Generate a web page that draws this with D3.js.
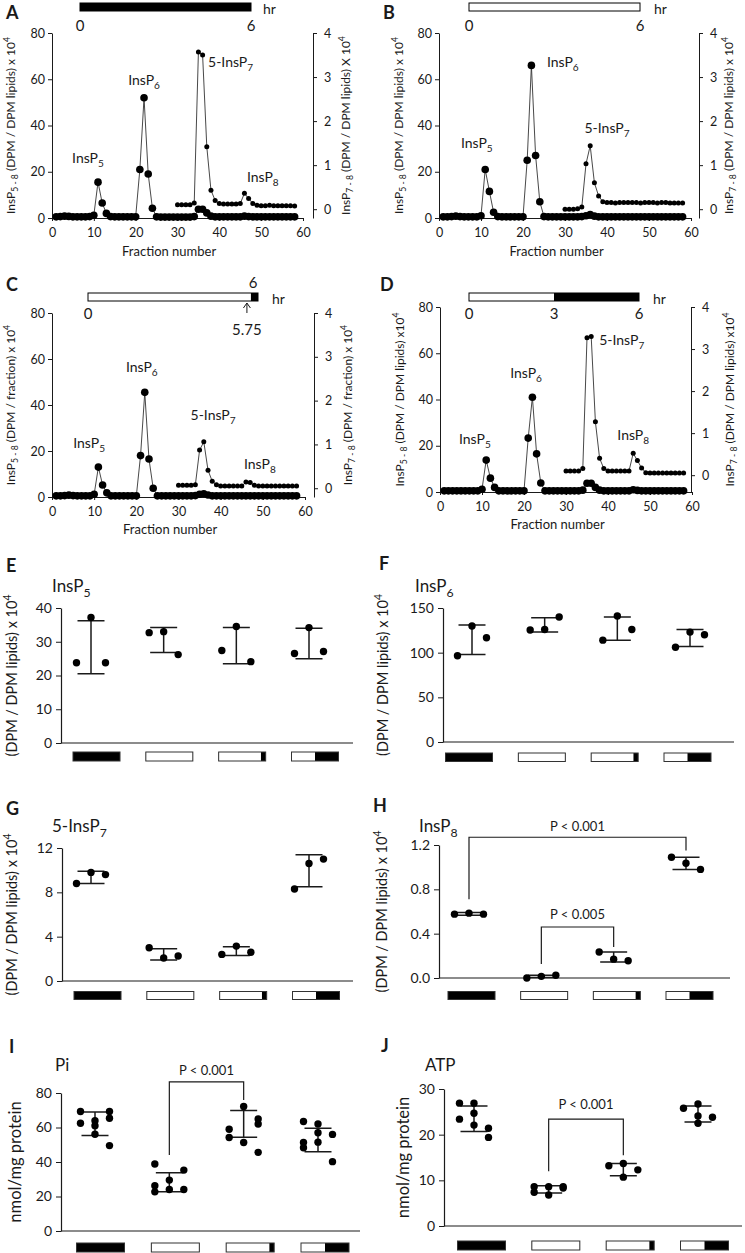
<!DOCTYPE html>
<html><head><meta charset="utf-8">
<script src="https://cdn.jsdelivr.net/npm/d3@7"></script>
<style>body{margin:0;background:#fff} svg{display:block;font-family:Lato,"DejaVu Sans",sans-serif}</style>
</head><body><svg id="c" width="745" height="1253"></svg>
<script>
// ---------------- DATA ----------------
// Chromatograms: left series fractions 1..58 (InsP5-8 scale), right series fractions 30..58 (InsP7-8 scale)
const leftStart = 1, rightStart = 30;
const A_left = [0.5,0.6,0.8,0.7,0.5,0.5,0.5,0.5,0.6,
  1.2,15.5,6.5,2.0,0.6,0.5,0.5,0.5,0.5,0.5,
  0.5,21,52,19,4.2,0.5,0.4,0.4,0.4,0.4,
  0.4,0.4,0.4,0.4,0.6,3.8,3.8,2.2,0.8,0.5,
  0.5,0.5,0.5,0.5,0.5,0.5,0.8,0.6,0.5,0.5,
  0.5,0.5,0.5,0.5,0.5,0.5,0.5,0.5,0.5];
const A_right = [0.1,0.1,0.1,0.1,0.14,3.57,3.5,1.42,0.43,0.2,
  0.13,0.12,0.12,0.12,0.12,0.13,0.36,0.24,0.13,0.09,
  0.08,0.08,0.09,0.08,0.08,0.08,0.08,0.08,0.07];
const B_left = [0.5,0.5,0.6,0.8,0.6,0.5,0.5,0.5,0.5,
  1.0,21,11.5,2.5,0.6,0.5,0.5,0.5,0.5,0.5,
  0.5,25,66,27,7,0.6,0.5,0.5,0.5,0.5,
  0.5,0.5,0.5,0.5,0.6,1.0,1.5,0.8,0.5,0.5,
  0.5,0.5,0.5,0.5,0.5,0.5,0.5,0.5,0.5,0.5,
  0.5,0.5,0.5,0.5,0.5,0.5,0.5,0.5,0.5];
const B_right = [0.0,0.0,0.0,0.01,0.05,1.03,1.44,0.6,0.3,0.17,
  0.15,0.15,0.14,0.15,0.15,0.15,0.15,0.15,0.14,0.15,
  0.15,0.15,0.14,0.15,0.15,0.14,0.14,0.14,0.14];
const C_left = [0.5,0.5,0.6,0.8,0.6,0.5,0.5,0.5,0.5,
  1.2,13,5.2,1.8,0.5,0.5,0.5,0.5,0.5,0.5,
  0.5,18,45.5,16.5,3.8,0.5,0.5,0.5,0.5,0.5,
  0.5,0.5,0.5,0.5,0.6,1.2,1.4,0.9,0.5,0.5,
  0.5,0.5,0.5,0.5,0.5,0.5,0.5,0.5,0.5,0.5,
  0.5,0.5,0.5,0.5,0.5,0.5,0.5,0.5,0.5];
const C_right = [0.07,0.07,0.07,0.07,0.08,0.87,1.06,0.41,0.16,0.08,
  0.05,0.05,0.05,0.05,0.05,0.05,0.14,0.13,0.07,0.05,
  0.05,0.05,0.05,0.05,0.05,0.05,0.05,0.05,0.05];
const D_left = [0.5,0.5,0.5,0.5,0.5,0.5,0.5,0.5,0.5,
  1.2,13.8,6,2,0.5,0.5,0.5,0.5,0.5,0.5,
  0.5,23.3,41,16.5,3.9,0.5,0.5,0.5,0.5,0.5,
  0.5,0.5,0.5,0.5,0.8,3.8,3.8,2.0,0.8,0.5,
  0.5,0.5,0.5,0.5,0.5,0.5,1.0,0.7,0.5,0.5,
  0.5,0.5,0.5,0.5,0.5,0.5,0.5,0.5,0.5];
const D_right = [0.1,0.1,0.1,0.1,0.16,3.27,3.3,1.27,0.4,0.16,
  0.1,0.1,0.1,0.1,0.1,0.1,0.52,0.35,0.17,0.06,
  0.05,0.05,0.05,0.05,0.05,0.05,0.05,0.05,0.05];
const fracTicks = [0,10,20,30,40,50,60];
const leftTicks = [0,20,40,60,80];
const rightTicks = [0,1,2,3,4];

// Conditions for dot plots
const conds = ["dark 6h","light 6h","light 5.75h + dark 0.25h","light 3h + dark 3h"];
const iconLight = [0, 1, 0.9, 0.5];

// E-H: one value per column (left, middle, right) per condition
const E_pts = [[23.8,37.2,23.8],[32.7,33.0,26.2],[27.4,34.5,24.1],[26.5,34.2,27.1]];
const E_mean = [28.35,30.5,28.85,29.5], E_sd = [7.85,3.7,5.35,4.5];
const F_pts = [[96.5,129.8,116.7],[125.3,126,140],[114,141,126],[106,123,120]];
const F_mean = [114.5,131,127,116.5], F_sd = [16.5,8,13,9.5];
const G_pts = [[8.8,9.8,9.6],[3.0,2.07,2.25],[2.4,3.15,2.6],[8.3,10.6,11.0]];
const G_mean = [9.35,2.4,2.7,9.95], G_sd = [0.55,0.5,0.4,1.45];
const H_pts = [[0.576,0.585,0.576],[0.0,0.015,0.025],[0.235,0.17,0.155],[1.09,1.035,0.98]];
const H_mean = [0.578,0.015,0.19,1.035], H_sd = [0.012,0.01,0.045,0.055];
// I-J: several values per column (left, middle, right)
const I_pts = [
  [[69.3,62.5],[63.9,61,56.1],[69.3,65.4,49.5]],
  [[38.8,26.2,22.7],[29.5,24.1],[35.3,24.1]],
  [[59,54.2],[72.2,51.3],[65,62,45.6]],
  [[63.5,51.3,48.3],[62,57,51.5],[56,40.2]]];
const I_mean = [62.15,28.25,62.15,52.8], I_sd = [6.85,5.55,7.75,6.8];
const J_pts = [
  [[26.9,23.4],[26.9,24.7,22.1],[21.4,19.4]],
  [[8.6,7.4],[8.6,6.8],[8.6,8.3]],
  [[13.2],[13.7,10.7],[12.3]],
  [[25.8],[26.7,24.1,22.5],[23.8]]];
const J_mean = [23.5,8.0,12.35,24.55], J_sd = [2.8,0.8,1.35,1.75];

// significance brackets (condition indices, values)
const H_sig = [{a:0,b:3,top:1.27,la:0.71,lb:1.15,label:"P < 0.001",ly:1.37},
               {a:1,b:2,top:0.46,la:0.126,lb:0.28,label:"P < 0.005",ly:0.57}];
const I_sig = [{a:1,b:2,top:86.4,la:44,lb:76,label:"P < 0.001",ly:93.3}];
const J_sig = [{a:1,b:2,top:23.4,la:12,lb:15.5,label:"P < 0.001",ly:26.7}];

// ---------------- DRAWING ----------------
const svg = d3.select("#c");
const INK = "#1a1a1a";
const FONT = "Lato, 'DejaVu Sans', sans-serif";

function rich(sel, parts, size) {
  let cur = 0;
  parts.forEach(([t, type]) => {
    let target = 0, fs = size;
    if (type === "sub") { target = 0.28 * size; fs = size * 0.72; }
    if (type === "sup") { target = -0.42 * size; fs = size * 0.72; }
    sel.append("tspan").text(t).attr("dy", (target - cur).toFixed(2)).attr("font-size", fs);
    cur = target;
  });
  return sel;
}
function styleAxis(g, fs) {
  g.attr("font-family", null).attr("font-size", null);
  g.selectAll("text").attr("font-size", fs).attr("fill", INK).style("font-family", FONT);
  g.selectAll("path,line").attr("stroke", INK);
}
function letter(txt, x, y) {
  svg.append("text").attr("x", x).attr("y", y).attr("font-size", 18).attr("font-weight", "bold")
    .attr("fill", INK).text(txt);
}

const chromPanels = [
  {L:"A", left:A_left, right:A_right, xr:[52,303], yr:[218,33], rx:313, rdom:[-0.2,4],
   letter:[6,19], labX:[15,350], fracY:251,
   leftLab:[["InsP",""],["5 - 8","sub"],[" (DPM / DPM lipids) x 10",""],["4","sup"]],
   rightLab:[["InsP",""],["7 - 8","sub"],[" (DPM / DPM lipids) X 10",""],["4","sup"]],
   peaks:[["InsP","5",8.6,23.8,"middle"],["InsP","6",22,57.6,"middle"],["5-InsP","7",37.3,65.4,"start"],["InsP","8",46.6,15.6,"start"]],
   time:{range:[80,251], y:3, segs:[[0,6,1]], labs:[[0,"b"],[6,"b"]], labY:26, hrX:263}},
  {L:"B", left:B_left, right:B_right, xr:[439,691], yr:[218,33], rx:699, rdom:[-0.2,4],
   letter:[383,19], labX:[403,733], fracY:251,
   leftLab:[["InsP",""],["5 - 8","sub"],[" (DPM / DPM lipids) x 10",""],["4","sup"]],
   rightLab:[["InsP",""],["7 - 8","sub"],[" (DPM / DPM lipids) x 10",""],["4","sup"]],
   peaks:[["InsP","5",9.0,30.3,"middle"],["InsP","6",25.7,65.4,"start"],["5-InsP","7",40,36.8,"middle"]],
   time:{range:[469,640], y:3, segs:[[0,6,0]], labs:[[0,"b"],[6,"b"]], labY:26, hrX:654}},
  {L:"C", left:C_left, right:C_right, xr:[52,305], yr:[497,313], rx:314, rdom:[-0.2,4],
   letter:[6,291], labX:[15,352], fracY:529,
   leftLab:[["InsP",""],["5 - 8","sub"],[" (DPM / fraction) x 10",""],["4","sup"]],
   rightLab:[["InsP",""],["7 - 8","sub"],[" (DPM / fraction) x 10",""],["4","sup"]],
   peaks:[["InsP","5",8.8,21.3,"middle"],["InsP","6",21.3,54.3,"middle"],["5-InsP","7",38.2,33.5,"middle"],["InsP","8",49.3,12.2,"middle"]],
   time:{range:[88,258], y:293, segs:[[0,5.75,0],[5.75,6,1]], labs:[[0,"b"],[6,"a"]], labY:314, hrX:272, arrow:5.75}},
  {L:"D", left:D_left, right:D_right, xr:[440,692], yr:[492,307], rx:691, rdom:[-0.4,4],
   letter:[380,291], labX:[404,734], fracY:524,
   leftLab:[["InsP",""],["5 - 8","sub"],[" (DPM / DPM lipids) x10",""],["4","sup"]],
   rightLab:[["InsP",""],["7 - 8","sub"],[" (DPM / DPM lipids) x10",""],["4","sup"]],
   peaks:[["InsP","5",8.3,20.8,"middle"],["InsP","6",20.5,49.4,"middle"],["5-InsP","7",37.9,63.6,"start"],["InsP","8",46,22.5,"middle"]],
   time:{range:[469,639], y:293, segs:[[0,3,0],[3,6,1]], labs:[[0,"b"],[3,"b"],[6,"b"]], labY:314, hrX:653}}
];

chromPanels.forEach(p => {
  const g = svg.append("g");
  const x = d3.scaleLinear().domain([0,60]).range(p.xr);
  const yL = d3.scaleLinear().domain([0,80]).range(p.yr);
  const yR = d3.scaleLinear().domain(p.rdom).range(p.yr);
  letter(p.L, p.letter[0], p.letter[1]);

  const ax1 = g.append("g").attr("transform", `translate(${p.xr[0]},0)`)
    .call(d3.axisLeft(yL).tickValues(leftTicks).tickFormat(d3.format("d")).tickSize(4).tickPadding(3).tickSizeOuter(0));
  styleAxis(ax1, 12.5);
  const ax2 = g.append("g").attr("transform", `translate(${p.rx},0)`)
    .call(d3.axisRight(yR).tickValues(rightTicks).tickFormat(d3.format("d")).tickSize(4).tickPadding(7).tickSizeOuter(0));
  styleAxis(ax2, 12.5);
  const ax3 = g.append("g").attr("transform", `translate(0,${p.yr[0]})`)
    .call(d3.axisBottom(x).tickValues(fracTicks).tickFormat(d3.format("d")).tickSize(3).tickPadding(7).tickSizeOuter(0));
  styleAxis(ax3, 12.5);

  g.append("text").attr("x", x(28)).attr("y", p.fracY).attr("dy", "0.35em").attr("text-anchor", "middle")
    .attr("font-size", 13).attr("fill", INK).text("Fraction number");

  const cy = (p.yr[0] + p.yr[1]) / 2;
  rich(g.append("text").attr("transform", `translate(${p.labX[0]},${cy}) rotate(-90)`).attr("dy", "0.35em")
    .attr("text-anchor", "middle").attr("fill", INK), p.leftLab, 12);
  rich(g.append("text").attr("transform", `translate(${p.labX[1]},${cy}) rotate(-90)`).attr("dy", "0.35em")
    .attr("text-anchor", "middle").attr("fill", INK), p.rightLab, 12);

  const lData = p.left.map((v, i) => ({f: leftStart + i, v}));
  const rData = p.right.map((v, i) => ({f: rightStart + i, v}));
  g.append("path").datum(lData).attr("fill", "none").attr("stroke", "#333").attr("stroke-width", 0.9)
    .attr("d", d3.line().x(d => x(d.f)).y(d => yL(d.v)));
  g.append("path").datum(rData).attr("fill", "none").attr("stroke", "#333").attr("stroke-width", 0.9)
    .attr("d", d3.line().x(d => x(d.f)).y(d => yR(d.v)));
  g.selectAll(".ld").data(lData).join("circle").attr("cx", d => x(d.f)).attr("cy", d => yL(d.v))
    .attr("r", 3.8).attr("fill", "#000");
  g.selectAll(".rd").data(rData).join("circle").attr("cx", d => x(d.f)).attr("cy", d => yR(d.v))
    .attr("r", 2.5).attr("fill", "#000");

  p.peaks.forEach(([t, s, f, v, anc]) => {
    rich(g.append("text").attr("x", x(f)).attr("y", yL(v)).attr("text-anchor", anc).attr("fill", INK)
      .attr("dy", "0.3em"), [[t, ""], [s, "sub"]], 14);
  });

  // time bar
  const T = p.time;
  const t = d3.scaleLinear().domain([0,6]).range(T.range);
  T.segs.forEach(s => g.append("rect").attr("x", t(s[0])).attr("y", T.y).attr("width", t(s[1]) - t(s[0]))
    .attr("height", 8).attr("fill", s[2] ? "#000" : "#fff"));
  g.append("rect").attr("x", t(0)).attr("y", T.y).attr("width", t(6) - t(0)).attr("height", 8)
    .attr("fill", "none").attr("stroke", "#000").attr("stroke-width", 1);
  T.labs.forEach(([h, pos]) => g.append("text").attr("x", t(h) + (pos === "a" ? -5 : 0))
    .attr("y", pos === "a" ? T.y - 10 : T.labY).attr("dy", "0.35em").attr("text-anchor", "middle")
    .attr("font-size", 15).attr("fill", INK).text(h));
  g.append("text").attr("x", T.hrX).attr("y", T.y + 11).attr("font-size", 14)
    .attr("fill", INK).text("hr");
  if (T.arrow !== undefined) {
    const ax = t(T.arrow) - 4;
    g.append("path").attr("d", `M${ax},${T.y + 20}V${T.y + 10}M${ax - 3.5},${T.y + 15}L${ax},${T.y + 10}L${ax + 3.5},${T.y + 15}`)
      .attr("fill", "none").attr("stroke", INK).attr("stroke-width", 1);
    g.append("text").attr("x", ax).attr("y", T.y + 37).attr("dy", "0.35em").attr("text-anchor", "middle")
      .attr("font-size", 15).attr("fill", INK).text(T.arrow);
  }
});

// ---------- dot-plot panels ----------
const dotPanels = [
  {L:"E", pts:E_pts, mean:E_mean, sd:E_sd, ax:61, axEnd:353, y0:743, y1:608, dom:[0,40], ticks:[0,10,20,30,40], fmt:d3.format("d"),
   p:[91,309], b:[96.5,315], barY:752, barH:9, barW:47, letter:[6,572], title:[52,592,[["InsP",""],["5","sub"]]], labX:17,
   ylab:[["(DPM / DPM lipids) x 10",""],["4","sup"]], sig:[]},
  {L:"F", pts:F_pts, mean:F_mean, sd:F_sd, ax:443, axEnd:734, y0:742, y1:608, dom:[0,150], ticks:[0,50,100,150], fmt:d3.format("d"),
   p:[472,690], b:[469,687.5], barY:753, barH:8.5, barW:47, letter:[379,570], title:[415,592,[["InsP",""],["6","sub"]]], labX:388,
   ylab:[["(DPM / DPM lipids) x 10",""],["4","sup"]], sig:[]},
  {L:"G", pts:G_pts, mean:G_mean, sd:G_sd, ax:62, axEnd:353, y0:981, y1:848, dom:[0,12], ticks:[0,4,8,12], fmt:d3.format("d"),
   p:[91,309], b:[97.5,316], barY:991.5, barH:8, barW:47, letter:[6,815], title:[52,832,[["5-InsP",""],["7","sub"]]], labX:17,
   ylab:[["(DPM / DPM lipids) x 10",""],["4","sup"]], sig:[]},
  {L:"H", pts:H_pts, mean:H_mean, sd:H_sd, ax:439, axEnd:730, y0:978, y1:845, dom:[0,1.2], ticks:[0,0.4,0.8,1.2], fmt:d3.format(".1f"),
   p:[469,686], b:[471.5,689.5], barY:991.5, barH:8, barW:47, letter:[373,812], title:[419,832,[["InsP",""],["8","sub"]]], labX:387,
   ylab:[["(DPM / DPM lipids) x 10",""],["4","sup"]], sig:H_sig},
  {L:"I", pts:I_pts, mean:I_mean, sd:I_sd, ax:61, axEnd:360, y0:1231, y1:1093, dom:[0,80], ticks:[0,20,40,60,80], fmt:d3.format("d"),
   p:[95,318], b:[100.5,325], barY:1243, barH:9, barW:48, letter:[9,1053], title:[55,1071,[["Pi",""]]], labX:21,
   ylab:[["nmol/mg protein",""]], sig:I_sig, labSize:16.5},
  {L:"J", pts:J_pts, mean:J_mean, sd:J_sd, ax:444, axEnd:742, y0:1226, y1:1089, dom:[0,30], ticks:[0,10,20,30], fmt:d3.format("d"),
   p:[474,698], b:[481.5,704.5], barY:1241, barH:9, barW:48, letter:[381,1052], title:[425,1071,[["ATP",""]]], labX:409,
   ylab:[["nmol/mg protein",""]], sig:J_sig, labSize:16.5}
];

dotPanels.forEach(p => {
  const g = svg.append("g");
  const y = d3.scaleLinear().domain(p.dom).range([p.y0, p.y1]);
  const xp = d3.scalePoint().domain(conds).range(p.p);
  const xb = d3.scalePoint().domain(conds).range(p.b);
  letter(p.L, p.letter[0], p.letter[1]);
  rich(g.append("text").attr("x", p.title[0]).attr("y", p.title[1]).attr("fill", INK), p.title[2], 17);

  const ax = g.append("g").attr("transform", `translate(${p.ax},0)`)
    .call(d3.axisLeft(y).tickValues(p.ticks).tickFormat(p.fmt).tickSize(5).tickPadding(4).tickSizeOuter(0));
  styleAxis(ax, 14);
  ax.select(".domain").attr("stroke-width", 1.2);
  g.append("line").attr("x1", p.ax).attr("x2", p.axEnd).attr("y1", y(0)).attr("y2", y(0))
    .attr("stroke", INK).attr("stroke-width", 1.2);

  const cy = (p.y0 + p.y1) / 2;
  rich(g.append("text").attr("transform", `translate(${p.labX},${cy}) rotate(-90)`).attr("dy", "0.35em")
    .attr("text-anchor", "middle").attr("fill", INK), p.ylab, p.labSize || 14.5);

  // condition icons
  conds.forEach((c, i) => {
    const x0 = xb(c) - p.barW / 2;
    const wl = p.barW * iconLight[i];
    g.append("rect").attr("x", x0).attr("y", p.barY).attr("width", p.barW).attr("height", p.barH).attr("fill", "#000");
    if (wl > 0) g.append("rect").attr("x", x0).attr("y", p.barY).attr("width", wl).attr("height", p.barH).attr("fill", "#fff");
    g.append("rect").attr("x", x0).attr("y", p.barY).attr("width", p.barW).attr("height", p.barH)
      .attr("fill", "none").attr("stroke", "#333").attr("stroke-width", 1);
  });

  // error bars
  const cap = 13.5;
  conds.forEach((c, i) => {
    const cx = xp(c), hi = y(p.mean[i] + p.sd[i]), lo = y(p.mean[i] - p.sd[i]);
    g.append("path").attr("d", `M${cx},${hi}V${lo}M${cx - cap},${hi}H${cx + cap}M${cx - cap},${lo}H${cx + cap}`)
      .attr("stroke", INK).attr("stroke-width", 1.5).attr("fill", "none");
  });

  // points
  const off = 14.5;
  const flat = [];
  p.pts.forEach((grp, i) => grp.forEach((col, j) => {
    const vals = Array.isArray(col) ? col : [col];
    vals.forEach(v => flat.push({c: conds[i], j, v}));
  }));
  g.selectAll("circle.pt").data(flat).join("circle")
    .attr("cx", d => xp(d.c) + (d.j - 1) * off).attr("cy", d => y(d.v)).attr("r", 3.7).attr("fill", "#000");

  // significance
  p.sig.forEach(s => {
    const xa = xp(conds[s.a]), xb2 = xp(conds[s.b]);
    g.append("path").attr("d", `M${xa},${y(s.la)}V${y(s.top)}H${xb2}V${y(s.lb)}`)
      .attr("fill", "none").attr("stroke", INK).attr("stroke-width", 1.2);
    g.append("text").attr("x", (xa + xb2) / 2).attr("y", y(s.ly)).attr("dy", "0.35em").attr("text-anchor", "middle")
      .attr("font-size", 13).attr("fill", INK).text(s.label);
  });
});
</script></body></html>
